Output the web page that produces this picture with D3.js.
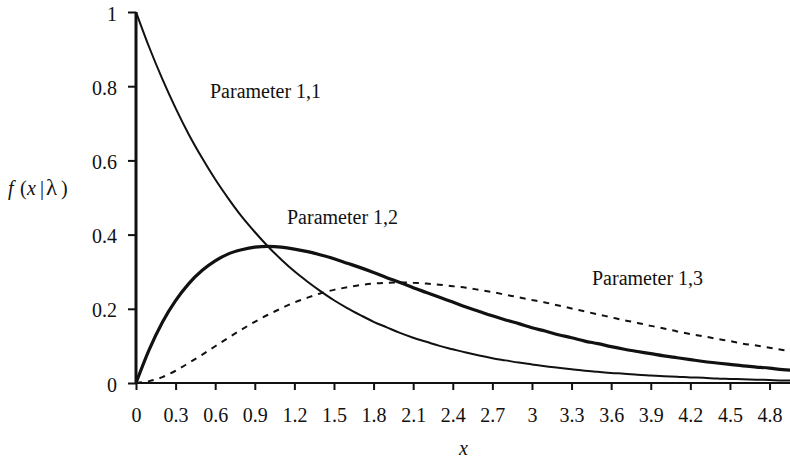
<!DOCTYPE html>
<html>
<head>
<meta charset="utf-8">
<script src="https://cdn.jsdelivr.net/npm/d3@7"></script>
<style>
  html, body { margin: 0; padding: 0; background: #fff; }
  svg { display: block; }
</style>
</head>
<body>
<svg id="chart" width="790" height="464"></svg>
<script>
// Sample points along x (step 0.1)
const xValues = [0,0.1,0.2,0.3,0.4,0.5,0.6,0.7,0.8,0.9,1.0,1.1,1.2,1.3,1.4,1.5,1.6,1.7,1.8,1.9,
  2.0,2.1,2.2,2.3,2.4,2.5,2.6,2.7,2.8,2.9,3.0,3.1,3.2,3.3,3.4,3.5,3.6,3.7,3.8,3.9,
  4.0,4.1,4.2,4.3,4.4,4.5,4.6,4.7,4.8,4.9,5.0];

// Density curves f(x|λ)
const param11 = [1.000,0.905,0.819,0.741,0.670,0.607,0.549,0.497,0.449,0.407,0.368,0.333,0.301,0.273,0.247,0.223,0.202,0.183,0.165,0.150,
  0.135,0.122,0.111,0.100,0.091,0.082,0.074,0.067,0.061,0.055,0.050,0.045,0.041,0.037,0.033,0.030,0.027,0.025,0.022,0.020,
  0.018,0.017,0.015,0.014,0.012,0.011,0.010,0.009,0.008,0.007,0.007];
const param12 = [0.000,0.090,0.164,0.222,0.268,0.303,0.329,0.348,0.359,0.366,0.368,0.366,0.361,0.354,0.345,0.335,0.323,0.311,0.298,0.284,
  0.271,0.257,0.244,0.231,0.218,0.205,0.193,0.181,0.170,0.160,0.149,0.140,0.130,0.122,0.113,0.106,0.098,0.091,0.085,0.079,
  0.073,0.068,0.063,0.058,0.054,0.050,0.046,0.043,0.040,0.036,0.034];
const param13 = [0.000,0.005,0.016,0.033,0.054,0.076,0.099,0.122,0.144,0.165,0.184,0.201,0.217,0.230,0.242,0.251,0.258,0.264,0.268,0.270,
  0.271,0.270,0.268,0.265,0.261,0.257,0.251,0.245,0.238,0.231,0.224,0.217,0.209,0.201,0.193,0.185,0.177,0.169,0.162,0.154,
  0.147,0.139,0.132,0.126,0.119,0.113,0.106,0.101,0.095,0.089,0.084];

const xTicks = [0,0.3,0.6,0.9,1.2,1.5,1.8,2.1,2.4,2.7,3,3.3,3.6,3.9,4.2,4.5,4.8];
const yTicks = [0,0.2,0.4,0.6,0.8,1];
const seriesLabels = ["Parameter 1,1", "Parameter 1,2", "Parameter 1,3"];

const FONT = "'Liberation Serif', 'Times New Roman', 'DejaVu Serif', serif";
const FS = 20;

const svg = d3.select("#chart");
const x = d3.scaleLinear().domain([0, 4.955]).range([136, 790]);
const y = d3.scaleLinear().domain([0, 1]).range([383, 12]);

svg.append("clipPath").attr("id", "plot")
  .append("rect").attr("x", 136).attr("y", 0).attr("width", 654).attr("height", 384);

// Axes
const xAxis = svg.append("g").attr("transform", "translate(0,383)")
  .call(d3.axisBottom(x).tickValues(xTicks).tickSize(7).tickPadding(18)
    .tickFormat(d => String(d)));
xAxis.attr("font-family", FONT).attr("font-size", FS);
xAxis.select(".domain").attr("stroke-width", 2.2).attr("stroke", "#111")
  .attr("d", `M136,0H790`);
xAxis.selectAll(".tick line").attr("stroke-width", 2).attr("stroke", "#111");
xAxis.selectAll(".tick text").attr("fill", "#111");

const yAxis = svg.append("g").attr("transform", "translate(136,0)")
  .call(d3.axisLeft(y).tickValues(yTicks).tickSize(8).tickPadding(11)
    .tickFormat(d => String(d)));
yAxis.attr("font-family", FONT).attr("font-size", FS);
yAxis.select(".domain").attr("stroke-width", 3).attr("stroke", "#111")
  .attr("d", `M0,383V12`);
yAxis.selectAll(".tick line").attr("stroke-width", 2).attr("stroke", "#111");
yAxis.selectAll(".tick text").attr("fill", "#111").attr("dy", "0.4em");

// Curves
const line = d3.line().x((d, i) => x(xValues[i])).y(d => y(d)).curve(d3.curveMonotoneX);
const g = svg.append("g").attr("clip-path", "url(#plot)");
g.append("path").datum(param11).attr("d", line)
  .attr("fill", "none").attr("stroke", "#111").attr("stroke-width", 2);
g.append("path").datum(param12).attr("d", line)
  .attr("fill", "none").attr("stroke", "#111").attr("stroke-width", 3.2);
g.append("path").datum(param13).attr("d", line)
  .attr("fill", "none").attr("stroke", "#111").attr("stroke-width", 2)
  .attr("stroke-dasharray", "6,6");

// Curve labels
const labelPos = [[210, 98], [287, 224], [592, 285]];
const labels = svg.append("g").attr("font-family", FONT).attr("font-size", FS).attr("fill", "#111");
seriesLabels.forEach((t, i) => {
  labels.append("text").attr("x", labelPos[i][0]).attr("y", labelPos[i][1]).text(t);
});

// Axis titles
const yTitle = labels.append("text").attr("y", 195);
[["f", 8, true, 20], ["(", 20, false, 20], ["x", 27, true, 20], ["|", 40, false, 20], ["λ", 46, false, 23], [")", 61, false, 20]]
  .forEach(([t, px, it, fs]) => {
    yTitle.append("tspan").attr("x", px).attr("font-size", fs)
      .attr("font-style", it ? "italic" : "normal").text(t);
  });

labels.append("text").attr("x", 459).attr("y", 455)
  .attr("font-style", "italic").text("x");
</script>
</body>
</html>
